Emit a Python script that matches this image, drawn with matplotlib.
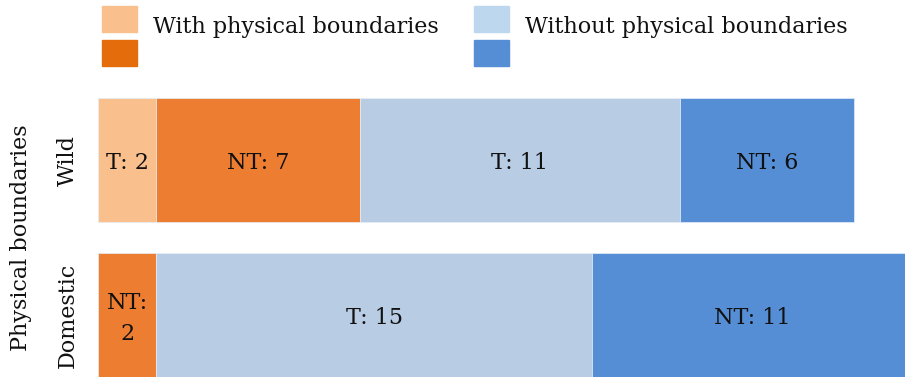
import matplotlib
matplotlib.use("Agg")
import matplotlib.pyplot as plt
from matplotlib.patches import Rectangle

plt.rcParams['font.family'] = ['DejaVu Serif']

# Categories and stacked segments (left to right)
categories = ["Domestic", "Wild"]
wild_values = [2, 7, 11, 6]
wild_labels = ["T: 2", "NT: 7", "T: 11", "NT: 6"]
wild_colors = ["#F9C08E", "#ED7D31", "#B8CCE4", "#558ED5"]
domestic_values = [2, 15, 11]
domestic_labels = ["NT:\n2", "T: 15", "NT: 11"]
domestic_colors = ["#ED7D31", "#B8CCE4", "#558ED5"]
legend_labels = ["With physical boundaries", "Without physical boundaries"]
legend_colors = [("#F9C08E", "#E46C0A"), ("#BDD7EE", "#558ED5")]
axis_label = "Physical boundaries"

W, H = 905, 378
fig = plt.figure(figsize=(W / 100, H / 100), dpi=100)
ax = fig.add_axes([98 / W, 1 / H, 1 - 98 / W, (377 - 98) / H])

FS = 16

def draw_row(y, values, labels, colors):
    left = 0
    for v, lab, c in zip(values, labels, colors):
        ax.barh(y, v, left=left, height=0.8, color=c, edgecolor="#E8EEF6", linewidth=0.5)
        ax.text(left + v / 2, y - 0.022, lab, ha="center", va="center", fontsize=FS,
                color="#111111", linespacing=1.5)
        left += v

draw_row(1, wild_values, wild_labels, wild_colors)
draw_row(0, domestic_values, domestic_labels, domestic_colors)

ax.set_xlim(0, (W - 98) / 29.08)
ax.set_ylim(-0.4, 1.4)
ax.set_yticks([0, 1])
ax.set_yticklabels(categories, rotation=90, va="center", fontsize=FS, color="#111111")
ax.tick_params(axis="y", length=0, pad=14)
ax.set_xticks([])
for s in ax.spines.values():
    s.set_visible(False)
ax.set_ylabel(axis_label, fontsize=FS, color="#111111", labelpad=18)

# Legend: two columns of paired colour swatches
def fx(px):
    return px / W

def fy(py):
    return 1 - py / H

for x0, (c_top, c_bot), lab in zip([102, 474], legend_colors, legend_labels):
    fig.patches.append(Rectangle((fx(x0), fy(32)), 35 / W, 26 / H, color=c_top,
                                 transform=fig.transFigure, figure=fig))
    fig.patches.append(Rectangle((fx(x0), fy(66)), 35 / W, 26 / H, color=c_bot,
                                 transform=fig.transFigure, figure=fig))
    fig.text(fx(x0 + 51), fy(27), lab, ha="left", va="center", fontsize=FS,
             color="#111111")

fig.savefig("out.png", dpi=100)
